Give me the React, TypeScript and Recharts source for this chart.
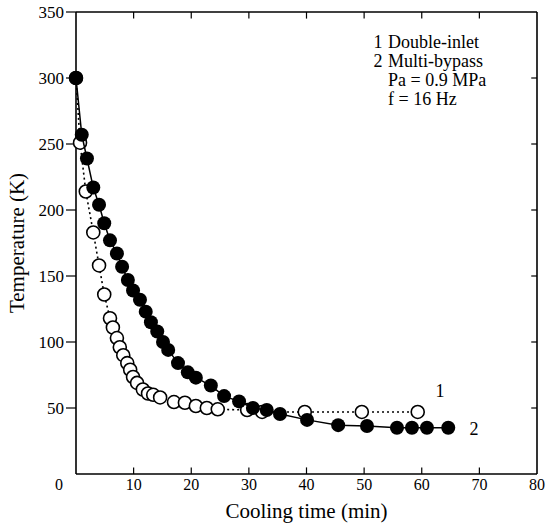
import React from 'react';
import { ScatterChart, Scatter, XAxis, YAxis, ReferenceLine, Label } from 'recharts';

const serif = "'Liberation Serif', 'Times New Roman', serif";

// 1 Double-inlet (open circles, dotted line)
const doubleInletTime = [0, 0.7, 1.7, 3.0, 4.0, 4.9, 5.9, 6.4, 7.1, 7.6, 8.2, 8.9, 9.4, 9.9, 10.6, 11.6, 12.5, 13.4, 14.6, 17.0, 18.9, 20.8, 22.7, 24.6, 29.7, 32.3, 39.7, 49.6, 59.3];
const doubleInletTemp = [300, 251, 214, 183, 158, 136, 118, 111, 103, 96, 90, 84, 79, 73.5, 69, 64, 61, 60, 58, 54.5, 54, 51.5, 50, 49, 48.5, 47, 47, 47, 47];

// 2 Multi-bypass (filled circles, solid line)
const multiBypassTime = [0, 1.0, 1.9, 3.0, 4.0, 4.9, 5.9, 7.1, 8.0, 9.0, 9.9, 11.1, 12.1, 13.0, 14.1, 15.1, 16.0, 17.7, 19.4, 20.8, 23.4, 25.7, 28.3, 30.7, 33.1, 35.4, 40.1, 45.5, 50.5, 55.7, 58.3, 60.9, 64.6];
const multiBypassTemp = [300, 257, 239, 217, 204, 190, 177, 167, 157, 147, 139, 132, 123, 115, 108, 100, 94, 84, 77, 73, 67, 59, 55, 50, 48.5, 45.5, 41, 37, 36.4, 35, 35, 35, 35];

const xTicks = [0, 10, 20, 30, 40, 50, 60, 70, 80];
const yTicks = [50, 100, 150, 200, 250, 300, 350];
const innerXTicks = [10, 20, 30, 40, 50, 60, 70];
const innerYTicks = [50, 100, 150, 200, 250, 300];

const legendLines = [
  { num: '1', text: 'Double-inlet' },
  { num: '2', text: 'Multi-bypass' },
  { num: '', text: 'Pa = 0.9 MPa' },
  { num: '', text: 'f = 16 Hz' },
];

const doubleInlet = doubleInletTime.map((t, i) => ({ t, T: doubleInletTemp[i] }));
const multiBypass = multiBypassTime.map((t, i) => ({ t, T: multiBypassTemp[i] }));

const OpenDot = (p: any) => (
  <circle cx={p.cx} cy={p.cy} r={6.5} fill="#fff" stroke="#000" strokeWidth={1.6} />
);
const FilledDot = (p: any) => <circle cx={p.cx} cy={p.cy} r={7} fill="#000" />;

const XTick = (p: any) => {
  const v = p.payload.value;
  return (
    <text x={p.x + (v === 0 ? -17 : 0)} y={p.y + 14} textAnchor="middle" fontFamily={serif} fontSize={16} fill="#000">
      {v}
    </text>
  );
};

export default function App() {
  return (
    <div style={{ position: 'relative', width: 552, height: 524, background: '#fff' }}>
      <style>{'body{margin:0}'}</style>
      <ScatterChart width={552} height={524} margin={{ top: 12, right: 15, bottom: 0, left: 0 }}>
        <XAxis
          type="number"
          dataKey="t"
          domain={[0, 80]}
          ticks={xTicks}
          height={50}
          tickLine={false}
          tickSize={0}
          axisLine={{ stroke: '#000', strokeWidth: 1.6 }}
          tick={<XTick />}
        >
          <Label
            value="Cooling time (min)"
            position="insideBottom"
            offset={6}
            style={{ fontFamily: serif, fontSize: 21, fill: '#000' }}
          />
        </XAxis>
        <YAxis
          type="number"
          dataKey="T"
          domain={[0, 350]}
          ticks={yTicks}
          width={76}
          tickSize={10}
          tickMargin={2}
          tickLine={{ stroke: '#000', strokeWidth: 1.2 }}
          axisLine={{ stroke: '#000', strokeWidth: 1.6 }}
          tick={{ fontFamily: serif, fontSize: 17, fill: '#000' }}
        >
          <Label
            value="Temperature (K)"
            angle={-90}
            position="insideLeft"
            offset={17}
            style={{ fontFamily: serif, fontSize: 21, fill: '#000', textAnchor: 'middle' }}
          />
        </YAxis>
        <ReferenceLine y={350} stroke="#000" strokeWidth={1.6} />
        <ReferenceLine x={80} stroke="#000" strokeWidth={1.6} />
        {innerXTicks.map((v) => (
          <ReferenceLine key={'b' + v} segment={[{ x: v, y: 0 }, { x: v, y: 5 }]} stroke="#000" strokeWidth={1.2} />
        ))}
        {innerXTicks.map((v) => (
          <ReferenceLine key={'t' + v} segment={[{ x: v, y: 350 }, { x: v, y: 345 }]} stroke="#000" strokeWidth={1.2} />
        ))}
        {innerYTicks.map((v) => (
          <ReferenceLine key={'r' + v} segment={[{ x: 80, y: v }, { x: 79, y: v }]} stroke="#000" strokeWidth={1.2} />
        ))}
        <Scatter
          data={doubleInlet}
          line={{ stroke: '#000', strokeWidth: 1.6, strokeDasharray: '2 3' }}
          lineType="joint"
          shape={OpenDot}
          isAnimationActive={false}
        />
        <Scatter
          data={multiBypass}
          line={{ stroke: '#000', strokeWidth: 1.5 }}
          lineType="joint"
          shape={FilledDot}
          isAnimationActive={false}
        />
      </ScatterChart>
      <svg width={552} height={524} style={{ position: 'absolute', left: 0, top: 0, pointerEvents: 'none' }}>
        {legendLines.map((l, i) => (
          <g key={i} fontFamily={serif} fontSize={18} fill="#000">
            <text x={378} y={48 + i * 19} textAnchor="middle">{l.num}</text>
            <text x={388} y={48 + i * 19}>{l.text}</text>
          </g>
        ))}
        <text x={440} y={397} textAnchor="middle" fontFamily={serif} fontSize={18}>1</text>
        <text x={474} y={435} textAnchor="middle" fontFamily={serif} fontSize={18}>2</text>
      </svg>
    </div>
  );
}
